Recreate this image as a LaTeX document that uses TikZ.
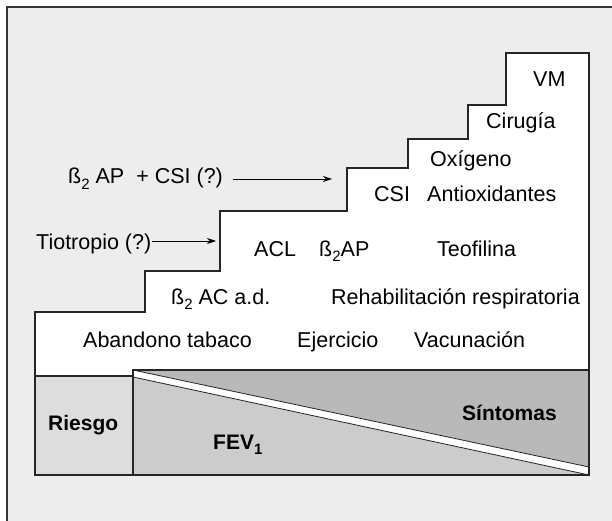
\documentclass[tikz,border=0pt]{standalone}
\usepackage{fontspec}
\setmainfont{Liberation Sans}
\usetikzlibrary{arrows.meta}
\definecolor{fondo}{HTML}{EDEDED}
\definecolor{griscaja}{HTML}{DDDDDD}
\definecolor{grisclaro}{HTML}{CCCCCC}
\definecolor{grisoscuro}{HTML}{B9B9B9}
\newcommand{\bajo}[1]{\raisebox{-0.5ex}{\fontsize{15}{15}\selectfont #1}}
\begin{document}
\begin{tikzpicture}[x=1pt, y=-1pt,
		marco/.style={line width=1.3pt, draw=black!80, fill=fondo},
		escalon/.style={line width=1.1pt, line join=miter, draw=black!85, fill=white},
		caja/.style={line width=1.1pt, draw=black!85},
		diag/.style={line width=0.8pt, black!85},
		etiq/.style={font=\fontsize{21.5}{24}\selectfont, inner sep=0pt, anchor=base west},
		negr/.style={font=\fontsize{21}{24}\selectfont\bfseries, inner sep=0pt, anchor=base west},
		flecha/.style={line width=0.9pt, -{Stealth[length=9pt, width=6pt]}},
		]
		
		%% fondo y marco
		\useasboundingbox (0,0) rectangle (612,521);
		\fill[white] (0,0) rectangle (612,521);
		\draw[marco] (7,7) rectangle (625,535);
		
		%% =========================================================
		%% ESCALERA
		%% =========================================================
		\draw[escalon] (35,376) -- (35,312) -- (145,312) -- (145,271)
		-- (220,271) -- (220,211) -- (347,211) -- (347,168)
		-- (408,168) -- (408,139) -- (468,139) -- (468,105)
		-- (506,105) -- (506,53) -- (589,53) -- (589,376) -- cycle;
		
		%% =========================================================
		%% BANDA INFERIOR: riesgo, FEV1 y sintomas
		%% =========================================================
		\coordinate (S1) at (133,370);
		\coordinate (S2) at (589,370);
		\coordinate (S3) at (589,467);
		\coordinate (F1) at (133,377);
		\coordinate (F2) at (589,475);
		\coordinate (F3) at (133,475);
		\draw[caja, fill=griscaja] (35,376) rectangle (133,475);
		\fill[white] (S1) rectangle (F2);
		\fill[grisoscuro] (S1) -- (S2) -- (S3) -- cycle;
		\fill[grisclaro] (F1) -- (F2) -- (F3) -- cycle;
		\draw[diag] (S1) -- (S3);
		\draw[diag] (F1) -- (F2);
		\draw[caja] (S1) rectangle (F2);
		
		\node[negr] (riesgo) at (48,430) {Riesgo};
		\node[negr] (fev) at (213,449) {FEV\bajo{1}};
		\node[negr] (sintomas) at (462,420) {Síntomas};
		
		%% =========================================================
		%% TRATAMIENTOS POR ESCALON
		%% =========================================================
		\foreach \nom/\x/\y/\txt in {
			vm/533/87/{VM},
			cirugia/486/129/{Cirugía},
			oxigeno/430/167/{Oxígeno},
			csi/374/202/{CSI},
			antiox/427/202/{Antioxidantes},
			acl/254/256/{ACL},
			bap/319/256/{ß\bajo{2}AP},
			teofilina/437/256/{Teofilina},
			bac/171/304/{ß\bajo{2} AC a.d.},
			rehab/331/304/{Rehabilitación respiratoria},
			tabaco/83/347/{Abandono tabaco},
			ejercicio/297/347/{Ejercicio},
			vacuna/414/347/{Vacunación}}
		\node[etiq] (\nom) at (\x,\y) {\txt};
		
		%% indicaciones dudosas con flecha
		\node[etiq] (tiotropio) at (36,249) {Tiotropio (?)};
		\node[etiq] (bapcsi) at (68,184) {ß\bajo{2} AP\ \ + CSI (?)};
		\coordinate (puntaT) at (216,241);
		\coordinate (puntaB) at (332,179);
		\draw[flecha] (tiotropio.east |- puntaT) -- (puntaT);
		\draw[flecha] ([xshift=10pt]bapcsi.east |- puntaB) -- (puntaB);
		
\end{tikzpicture}
\end{document}
